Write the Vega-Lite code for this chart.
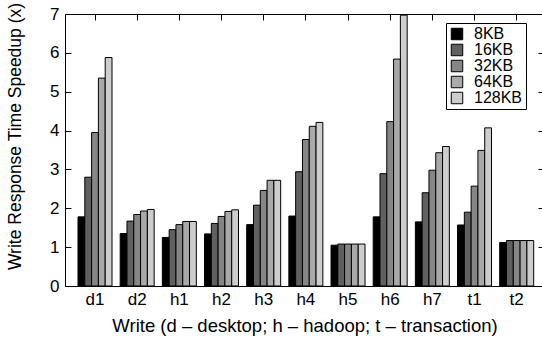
{
  "$schema": "https://vega.github.io/schema/vega-lite/v6.json",
  "autosize": "none",
  "width": 479,
  "height": 272,
  "padding": {"left": 65, "top": 14, "right": -2, "bottom": 57},
  "background": "white",
  "config": {
    "font": "Liberation Sans",
    "view": {"stroke": "black", "strokeWidth": 1},
    "axis": {
      "grid": false,
      "domain": false,
      "labelFont": "Liberation Sans",
      "labelFontSize": 17,
      "labelColor": "black",
      "titleFont": "Liberation Sans",
      "titleFontSize": 18.5,
      "titleFontWeight": "normal",
      "titleColor": "black",
      "titleLimit": 500,
      "tickColor": "black"
    },
    "legend": {
      "labelFont": "Liberation Sans",
      "labelFontSize": 16,
      "labelColor": "black",
      "labelLimit": 200
    }
  },
  "data": {
    "values": [
      {"w": "d1", "size": "8KB", "v": 1.78}, {"w": "d1", "size": "16KB", "v": 2.8}, {"w": "d1", "size": "32KB", "v": 3.95}, {"w": "d1", "size": "64KB", "v": 5.35}, {"w": "d1", "size": "128KB", "v": 5.88},
      {"w": "d2", "size": "8KB", "v": 1.35}, {"w": "d2", "size": "16KB", "v": 1.67}, {"w": "d2", "size": "32KB", "v": 1.84}, {"w": "d2", "size": "64KB", "v": 1.93}, {"w": "d2", "size": "128KB", "v": 1.97},
      {"w": "h1", "size": "8KB", "v": 1.25}, {"w": "h1", "size": "16KB", "v": 1.45}, {"w": "h1", "size": "32KB", "v": 1.58}, {"w": "h1", "size": "64KB", "v": 1.66}, {"w": "h1", "size": "128KB", "v": 1.66},
      {"w": "h2", "size": "8KB", "v": 1.34}, {"w": "h2", "size": "16KB", "v": 1.61}, {"w": "h2", "size": "32KB", "v": 1.79}, {"w": "h2", "size": "64KB", "v": 1.92}, {"w": "h2", "size": "128KB", "v": 1.96},
      {"w": "h3", "size": "8KB", "v": 1.58}, {"w": "h3", "size": "16KB", "v": 2.08}, {"w": "h3", "size": "32KB", "v": 2.46}, {"w": "h3", "size": "64KB", "v": 2.72}, {"w": "h3", "size": "128KB", "v": 2.72},
      {"w": "h4", "size": "8KB", "v": 1.8}, {"w": "h4", "size": "16KB", "v": 2.94}, {"w": "h4", "size": "32KB", "v": 3.77}, {"w": "h4", "size": "64KB", "v": 4.11}, {"w": "h4", "size": "128KB", "v": 4.21},
      {"w": "h5", "size": "8KB", "v": 1.05}, {"w": "h5", "size": "16KB", "v": 1.08}, {"w": "h5", "size": "32KB", "v": 1.08}, {"w": "h5", "size": "64KB", "v": 1.08}, {"w": "h5", "size": "128KB", "v": 1.08},
      {"w": "h6", "size": "8KB", "v": 1.78}, {"w": "h6", "size": "16KB", "v": 2.89}, {"w": "h6", "size": "32KB", "v": 4.23}, {"w": "h6", "size": "64KB", "v": 5.84}, {"w": "h6", "size": "128KB", "v": 6.97},
      {"w": "h7", "size": "8KB", "v": 1.65}, {"w": "h7", "size": "16KB", "v": 2.4}, {"w": "h7", "size": "32KB", "v": 2.98}, {"w": "h7", "size": "64KB", "v": 3.43}, {"w": "h7", "size": "128KB", "v": 3.59},
      {"w": "t1", "size": "8KB", "v": 1.57}, {"w": "t1", "size": "16KB", "v": 1.9}, {"w": "t1", "size": "32KB", "v": 2.57}, {"w": "t1", "size": "64KB", "v": 3.49}, {"w": "t1", "size": "128KB", "v": 4.07},
      {"w": "t2", "size": "8KB", "v": 1.12}, {"w": "t2", "size": "16KB", "v": 1.17}, {"w": "t2", "size": "32KB", "v": 1.17}, {"w": "t2", "size": "64KB", "v": 1.17}, {"w": "t2", "size": "128KB", "v": 1.17}
    ]
  },
  "layer": [
    {
      "mark": {"type": "bar", "stroke": "black", "strokeWidth": 1},
      "encoding": {
        "x": {
          "field": "w",
          "type": "nominal",
          "sort": null,
          "scale": {"paddingInner": 0.194, "paddingOuter": 0.2765, "align": 0.558},
          "axis": {
            "orient": "bottom",
            "labelAngle": 0,
            "ticks": false,
            "labelPadding": 5,
            "title": "Write (d – desktop; h – hadoop; t – transaction)",
            "titlePadding": 9
          }
        },
        "xOffset": {
          "field": "size",
          "type": "nominal",
          "sort": ["8KB", "16KB", "32KB", "64KB", "128KB"]
        },
        "y": {
          "field": "v",
          "type": "quantitative",
          "scale": {"domain": [0, 7], "nice": false},
          "axis": {
            "orient": "left",
            "values": [0, 1, 2, 3, 4, 5, 6, 7],
            "tickSize": -6,
            "labelPadding": 12,
            "title": "Write Response Time Speedup (x)",
            "titleFontSize": 17.5,
            "titleBaseline": "middle",
            "titleX": -50,
            "titleY": 122
          }
        },
        "color": {
          "field": "size",
          "type": "nominal",
          "sort": ["8KB", "16KB", "32KB", "64KB", "128KB"],
          "scale": {
            "domain": ["8KB", "16KB", "32KB", "64KB", "128KB"],
            "range": ["#000000", "#606060", "#868686", "#a9a9a9", "#cdcdcd"]
          },
          "legend": {
            "title": null,
            "orient": "none",
            "legendX": 381,
            "legendY": 9,
            "symbolType": "square",
            "symbolSize": 132,
            "symbolStrokeColor": "black",
            "symbolStrokeWidth": 1,
            "symbolOpacity": 1,
            "labelOffset": 9,
            "rowPadding": 0,
            "padding": 3,
            "strokeColor": "black",
            "fillColor": "white"
          }
        }
      }
    },
    {
      "mark": {"type": "bar", "opacity": 0},
      "encoding": {
        "x": {
          "field": "w",
          "type": "nominal",
          "sort": null,
          "axis": {"orient": "top", "labels": false, "tickSize": -6, "title": null}
        },
        "xOffset": {"field": "size", "type": "nominal", "sort": ["8KB", "16KB", "32KB", "64KB", "128KB"]},
        "y": {
          "field": "v",
          "type": "quantitative",
          "axis": {"orient": "right", "labels": false, "values": [0, 1, 2, 3, 4, 5, 6, 7], "tickSize": -6, "title": null}
        }
      }
    }
  ]
}
